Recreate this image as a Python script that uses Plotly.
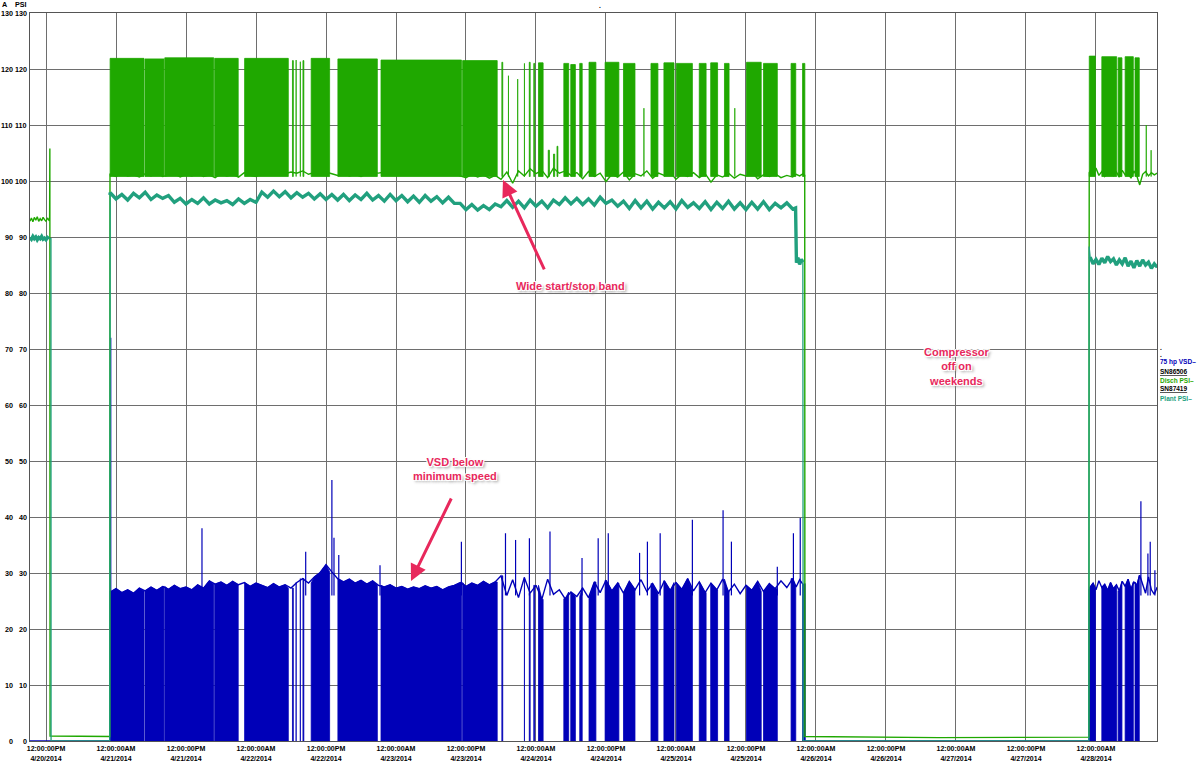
import numpy as np
import pandas as pd
import plotly.graph_objects as go

# ------------------------------------------------------------------ data
# time is expressed in hours after 2014-04-20 00:00
BASE = pd.Timestamp("2014-04-20 00:00")

# --- before the compressor is shut down on 4/20 (15-min samples from 9.25 h)
pre_t0, pre_step = 9.25, 0.25
pre_disch = [92.8, 93.4, 92.7, 93.5, 93.0, 93.6, 92.8, 93.3, 92.9, 93.5, 93.1, 92.8, 93.4, 93.0]
pre_plant = [89.9, 89.6, 90.1, 89.7, 90.0, 89.5, 89.9, 89.7, 90.1, 89.6, 89.8, 89.5, 89.9, 89.7]

# --- week run, hourly samples from 23 h (4/20 11 PM) to 140 h
run1_t0 = 23
run1_plant = [
    97.9, 96.8, 97.6, 96.6, 97.8, 97.0, 98.0, 96.7, 97.5, 96.9,
    97.4, 96.2, 96.9, 95.9, 96.7, 96.0, 97.0, 95.9, 96.6, 96.1,
    96.5, 95.8, 96.8, 96.0, 96.7, 96.2, 98.0, 97.1, 98.2, 97.2,
    98.1, 97.0, 97.9, 97.1, 97.8, 96.8, 97.7, 96.7, 97.6, 96.6,
    97.6, 96.5, 97.5, 96.7, 97.8, 96.6, 97.4, 96.4, 97.6, 96.5,
    97.4, 96.3, 97.3, 96.2, 97.4, 96.4, 97.2, 96.1, 97.1, 96.0,
    96.0, 94.9, 95.8, 94.8, 95.6, 94.9, 95.9, 95.4, 96.5, 95.3,
    96.4, 95.2, 96.6, 95.5, 96.4, 95.2, 96.6, 95.8, 97.0, 95.9,
    96.9, 95.8, 96.8, 95.7, 97.1, 96.0, 96.6, 95.5, 96.4, 95.1,
    96.5, 95.2, 96.4, 95.0, 96.2, 95.2, 96.3, 95.0, 96.5, 95.3,
    96.1, 95.1, 96.3, 94.9, 96.2, 95.1, 96.4, 95.0, 96.1, 94.9,
    96.2, 95.0, 96.3, 94.9, 96.0, 95.2, 96.1, 95.0,
]
run1_vsd = [
    26.6, 27.2, 26.5, 27.0, 26.4, 27.3, 26.8, 27.5, 26.9, 27.6,
    27.1, 27.8, 27.2, 27.5, 27.0, 27.9, 27.3, 28.6, 28.0, 28.4,
    27.8, 28.5, 27.9, 28.3, 27.6, 28.2, 27.8, 27.4, 28.1, 27.5,
    27.9, 27.3, 28.3, 29.0, 28.2, 29.3, 30.1, 31.5, 30.2, 29.0,
    28.4, 28.9, 28.2, 28.7, 28.0, 28.6, 27.8, 27.5, 27.9, 27.3,
    27.6, 27.1, 27.5, 27.2, 27.7, 27.3, 27.6, 27.0, 27.5, 27.8,
    28.3, 27.6, 28.2, 27.8, 28.5, 27.9, 28.4, 29.5, 26.0, 28.8,
    25.6, 29.2, 26.4, 27.8, 25.3, 28.9, 26.2, 27.0, 25.4, 26.6,
    25.8, 27.3, 25.6, 28.4, 26.5, 28.7, 26.8, 28.2, 26.4, 28.5,
    27.0, 28.8, 26.7, 28.1, 26.3, 28.6, 26.9, 28.3, 27.1, 29.0,
    26.8, 28.4, 26.5, 28.2, 27.0, 28.9, 26.6, 28.0, 26.3, 27.8,
    26.9, 28.5, 26.7, 28.1, 27.2, 28.6, 27.4, 29.0,
]
run1_disch = [
    101.2, 100.8, 101.4, 100.9, 101.1, 100.7, 101.3, 100.9, 101.5, 100.8,
    101.0, 101.3, 100.7, 101.2, 100.9, 101.4, 100.8, 101.1, 100.6, 101.3,
    100.9, 101.2, 100.7, 101.5, 101.0, 100.8, 101.3, 101.6, 101.4, 101.7,
    101.3, 101.6, 101.4, 101.8, 101.2, 101.5, 101.1, 101.6, 101.3, 101.0,
    101.4, 100.9, 101.2, 100.8, 101.3, 101.5, 101.4, 101.6, 101.3, 101.5,
    101.4, 101.6, 101.5, 101.3, 101.6, 101.4, 101.5, 101.2, 101.6, 101.3,
    101.0, 100.6, 101.2, 100.7, 101.1, 100.5, 101.0, 100.3, 101.6, 99.6,
    101.8, 100.9, 102.2, 101.3, 101.9, 100.6, 102.3, 101.4, 101.8, 101.0,
    101.5, 100.4, 101.7, 100.8, 101.4, 99.9, 101.2, 100.7, 101.6, 100.2,
    101.3, 100.9, 101.8, 100.5, 101.4, 101.0, 101.6, 100.3, 101.2, 100.8,
    101.5, 100.6, 101.3, 99.8, 101.1, 100.7, 101.4, 100.5, 101.2, 100.9,
    101.6, 100.4, 101.1, 100.8, 101.3, 100.6, 101.0, 100.7,
]

# --- Monday 4/28 run, 30-min samples from 191 h
run2_t0, run2_step = 191.0, 0.5
run2_plant = [86.4, 85.2, 86.0, 85.1, 86.2, 85.4, 86.5, 85.6, 86.1, 85.0, 85.9, 85.2,
              86.3, 84.8, 85.7, 84.5, 85.8, 84.8, 85.9, 85.0, 85.5, 84.4, 85.2, 84.6]
run2_vsd = [27.5, 28.2, 27.0, 28.6, 27.4, 28.0, 26.9, 28.3, 27.2, 27.9, 26.8, 28.5,
            27.6, 28.9, 27.1, 28.4, 27.8, 29.6, 28.1, 26.4, 29.3, 27.0, 26.2, 27.5]
run2_disch = [101.8, 101.2, 102.3, 101.0, 101.7, 100.8, 101.5, 102.1, 101.0, 101.6, 100.7, 101.9,
              101.1, 101.4, 100.5, 101.8, 100.9, 99.3, 101.2, 101.7, 100.9, 101.5, 101.1, 101.4]

# --- plant pressure while falling off after the Friday shutdown (hour, psi)
tail_plant_h = [140.5, 140.65, 140.9, 141.2, 141.5, 141.75]
tail_plant_v = [95.2, 85.4, 86.3, 85.1, 86.0, 85.5]

# --- start / stop transitions (hour, value)
plant_stop1_h = [12.85, 12.87, 22.93, 22.96]
plant_stop1_v = [89.7, 0.0, 0.0, 97.5]
plant_stop2_h = [141.8, 190.78, 190.82]
plant_stop2_v = [0.0, 0.0, 88.3]

disch_stop1_h = [12.62, 12.66, 12.70, 22.93, 22.97]
disch_stop1_v = [93.1, 105.8, 0.9, 0.8, 101.2]
disch_stop2_h = [140.6, 141.2, 141.8, 142.07, 142.1, 165.0, 190.78, 190.84]
disch_stop2_v = [101.2, 100.9, 101.3, 101.0, 0.8, 0.6, 0.7, 101.5]

vsd_stop1_h = [9.25, 22.97, 22.99]
vsd_stop1_v = [0.0, 0.0, 26.8]
vsd_stop2_h = [140.6, 141.2, 141.8, 142.08, 142.1, 190.8, 190.85]
vsd_stop2_v = [27.5, 28.8, 27.9, 28.0, 0.0, 0.0, 27.0]

# --- load/unload cycling periods (VSD to 0 A, discharge up to cut-out)
cyc_start = [22.99, 28.97, 32.36, 40.92, 46.05, 54.25, 54.88, 55.60, 56.05, 57.46,
             62.04, 69.43, 83.42, 90.15, 94.02, 94.85, 95.62, 96.43, 100.77, 101.96,
             103.50, 105.09, 107.85, 111.00, 115.71, 117.93, 120.05, 123.99, 125.95, 128.31,
             132.09, 135.00, 139.73, 141.70,
             190.85, 193.00, 195.80, 197.00, 198.69]
cyc_end = [28.80, 32.22, 40.76, 44.95, 53.54, 54.40, 55.00, 55.72, 56.20, 60.62,
           68.80, 83.22, 89.35, 90.30, 94.14, 95.00, 95.78, 97.22, 101.60, 102.75,
           103.92, 106.27, 110.21, 112.97, 116.90, 119.66, 122.81, 125.16, 127.13, 129.10,
           134.61, 137.37, 140.53, 142.09,
           191.90, 195.55, 196.45, 198.40, 199.42]
cyc_top = [121.9, 121.8, 122.0, 121.9, 121.9, 121.5, 121.6, 121.3, 121.5, 121.9,
           121.8, 121.6, 121.5, 121.2, 121.0, 121.2, 121.0, 121.1, 121.0, 120.8,
           121.0, 121.2, 121.2, 121.0, 121.0, 121.1, 121.0, 121.0, 121.1, 121.0,
           121.2, 121.0, 121.0, 121.0,
           122.3, 122.2, 122.0, 122.2, 122.0]

# --- short discharge pressure excursions without unloading
part_start = [91.28, 92.86, 98.10, 99.00, 99.60, 114.50, 130.08, 200.62, 201.45]
part_end = [91.36, 92.94, 98.30, 99.20, 99.75, 114.60, 130.18, 200.72, 201.55]
part_top = [118.8, 118.2, 105.5, 104.8, 106.2, 113.0, 113.0, 110.0, 105.5]

# --- VSD current spikes
spike_h = [23.10, 38.74, 56.52, 61.01, 61.37, 62.19, 69.26, 83.21, 90.77, 92.50,
           94.87, 98.40, 103.89, 106.66, 108.39, 113.76, 115.10, 117.29, 122.81, 128.07,
           129.50, 137.37, 140.13, 141.30, 199.70, 200.90, 201.30, 202.10]
spike_v = [72.0, 38.0, 33.8, 46.6, 36.3, 33.2, 31.4, 35.6, 37.1, 35.9,
           36.2, 37.4, 32.7, 36.2, 37.1, 33.6, 35.6, 37.1, 39.5, 41.2,
           35.6, 31.1, 37.1, 39.8, 42.8, 33.5, 35.6, 30.5]

# --- axis ticks
x_range_h = [9.257, 202.46]
tick_hours = [12, 24, 36, 48, 60, 72, 84, 96, 108, 120, 132, 144, 156, 168, 180, 192]
tick_text = ["12:00:00PM<br>4/20/2014", "12:00:00AM<br>4/21/2014", "12:00:00PM<br>4/21/2014",
             "12:00:00AM<br>4/22/2014", "12:00:00PM<br>4/22/2014", "12:00:00AM<br>4/23/2014",
             "12:00:00PM<br>4/23/2014", "12:00:00AM<br>4/24/2014", "12:00:00PM<br>4/24/2014",
             "12:00:00AM<br>4/25/2014", "12:00:00PM<br>4/25/2014", "12:00:00AM<br>4/26/2014",
             "12:00:00PM<br>4/26/2014", "12:00:00AM<br>4/27/2014", "12:00:00PM<br>4/27/2014",
             "12:00:00AM<br>4/28/2014"]
y_ticks = [0, 10, 20, 30, 40, 50, 60, 70, 80, 90, 100, 110, 120, 130]
y_tick_text = ["0", "10", "20", "30", "40", "50", "60", "70", "80", "90", "100", "110", "120", "130"]

# ------------------------------------------------------------------ helpers
def T(h):
    return (BASE + pd.Timedelta(hours=float(h))).strftime("%Y-%m-%d %H:%M:%S")


def grid(t0, step, n):
    return [t0 + i * step for i in range(n)]


pre_h = grid(pre_t0, pre_step, len(pre_plant))
run1_h = grid(run1_t0, 1, len(run1_plant))
run2_h = grid(run2_t0, run2_step, len(run2_plant))

plant_h = pre_h + plant_stop1_h + run1_h + tail_plant_h + plant_stop2_h + run2_h
plant_v = pre_plant + plant_stop1_v + run1_plant + tail_plant_v + plant_stop2_v + run2_plant

# thick noisy band only while the plant is pressurised
band_x = [T(h) for h in pre_h] + [None] + [T(h) for h in [22.96] + run1_h + tail_plant_h] + [None] \
    + [T(h) for h in run2_h]
band_y = pre_plant + [None] + [plant_stop1_v[-1]] + run1_plant + tail_plant_v + [None] + run2_plant

disch_h = pre_h + disch_stop1_h + grid(run1_t0, 1, len(run1_disch)) + disch_stop2_h \
    + grid(run2_t0, run2_step, len(run2_disch))
disch_v = pre_disch + disch_stop1_v + run1_disch + disch_stop2_v + run2_disch

vsd_h = vsd_stop1_h + grid(run1_t0, 1, len(run1_vsd)) + vsd_stop2_h + grid(run2_t0, run2_step, len(run2_vsd))
vsd_v = vsd_stop1_v + run1_vsd + vsd_stop2_v + run2_vsd

vsd_h_arr = np.array(vsd_h)
vsd_v_arr = np.array(vsd_v)


def vsd_near(h):
    return float(vsd_v_arr[np.argmin(np.abs(vsd_h_arr - h))])


# cycling fill polygons
blue_x, blue_y, green_x, green_y = [], [], [], []
GREEN_LOW = 100.8
for s, e, top in zip(cyc_start, cyc_end, cyc_top):
    green_x += [T(s), T(s), T(e), T(e), T(s), None]
    green_y += [GREEN_LOW, top, top, GREEN_LOW, GREEN_LOW, None]
    xs = [s, s] + [h for h in vsd_h if s < h < e] + [e, e]
    ys = [0, vsd_near(s)] + [v for h, v in zip(vsd_h, vsd_v) if s < h < e] + [vsd_near(e), 0]
    blue_x += [T(h) for h in xs] + [T(s), None]
    blue_y += ys + [0, None]
for s, e, top in zip(part_start, part_end, part_top):
    green_x += [T(s), T(s), T(e), T(e), T(s), None]
    green_y += [GREEN_LOW, top, top, GREEN_LOW, GREEN_LOW, None]

spx, spy = [], []
for h, v in zip(spike_h, spike_v):
    spx += [T(h), T(h), None]
    spy += [26.0, v, None]

# ------------------------------------------------------------------ figure
BLUE = "#0000B8"
GREEN = "#1FA800"
TEAL = "#21A07E"
RED = "#E8285C"
GRID = "#6E6E6E"

fig = go.Figure()
fig.add_trace(go.Scatter(x=blue_x, y=blue_y, mode="lines", fill="toself", fillcolor=BLUE,
                         line=dict(color=BLUE, width=0.8), hoverinfo="skip", showlegend=False))
fig.add_trace(go.Scatter(x=[T(h) for h in vsd_h], y=vsd_v, mode="lines", name="75 hp VSD",
                         line=dict(color=BLUE, width=1.4), showlegend=False))
fig.add_trace(go.Scatter(x=spx, y=spy, mode="lines", line=dict(color=BLUE, width=1.2),
                         hoverinfo="skip", showlegend=False))
fig.add_trace(go.Scatter(x=green_x, y=green_y, mode="lines", fill="toself", fillcolor=GREEN,
                         line=dict(color=GREEN, width=0.8), hoverinfo="skip", showlegend=False))
fig.add_trace(go.Scatter(x=[T(h) for h in disch_h], y=disch_v, mode="lines", name="Disch PSI",
                         line=dict(color=GREEN, width=1.4), showlegend=False))
fig.add_trace(go.Scatter(x=[T(h) for h in plant_h], y=plant_v, mode="lines", name="Plant PSI",
                         line=dict(color=TEAL, width=1.3), showlegend=False))
fig.add_trace(go.Scatter(x=band_x, y=band_y, mode="lines", line=dict(color=TEAL, width=3.4),
                         hoverinfo="skip", showlegend=False, connectgaps=False))

tick_font = dict(family="Liberation Sans, Arial", size=7.2, color="#000", weight="bold")

fig.update_layout(
    width=1200, height=761,
    margin=dict(l=30, r=43, t=13, b=20, autoexpand=False),
    paper_bgcolor="white", plot_bgcolor="white",
    xaxis=dict(type="date", range=[T(x_range_h[0]), T(x_range_h[1])], automargin=False,
               tickvals=[T(h) for h in tick_hours], ticktext=tick_text,
               tickfont=dict(family="Liberation Sans, Arial", size=7, color="#000", weight="bold"),
               showgrid=True, gridcolor=GRID, gridwidth=1, ticks="", ticklabelstandoff=1,
               showline=True, linecolor="#555", mirror=True, zeroline=False),
    yaxis=dict(range=[0, 130], tickvals=y_ticks, showgrid=True, gridcolor=GRID, gridwidth=1,
               showticklabels=False, ticks="", automargin=False,
               showline=True, linecolor="#555", mirror=True, zeroline=False),
)


def px_x(px):
    return (px - 30) / 1127.0


def px_y(py):
    return (741 - py) / 728.0


# two columns of y labels: A (current) and PSI
for v, txt in zip(y_ticks, y_tick_text):
    for px in (13.5, 28):
        fig.add_annotation(xref="paper", yref="y", x=px_x(px), y=v, text=txt, showarrow=False,
                           xanchor="right", yanchor="middle", font=tick_font,
                           borderpad=0, xshift=0)

ann_font = dict(family="Liberation Sans, Arial", size=11, color=RED, weight="bold",
                shadow="-1px -1px 0 #fff, 1px -1px 0 #fff, -1px 1px 0 #fff, 1px 1px 0 #fff, 2px 2px 3px #888")
notes = [
    (101.83, 81.25, "Wide start/stop band"),
    (82.11, 48.57, "VSD below<br>minimum speed"),
    (168.17, 66.79, "Compressor<br>off on<br>weekends"),
]
for h, y, txt in notes:
    fig.add_annotation(x=T(h), y=y, text=txt, showarrow=False, font=ann_font, align="center")

arrows = [(90.34, 100.18, 42, 91), (74.57, 28.57, 41, -84)]
for h, y, ax, ay in arrows:
    fig.add_annotation(x=T(h), y=y, text="", showarrow=True, ax=ax, ay=ay, arrowcolor=RED,
                       arrowwidth=3, arrowhead=2, arrowsize=1.1)

small = dict(family="Liberation Sans, Arial", size=6.5, weight="bold")

fig.add_annotation(xref="paper", yref="paper", x=px_x(0.5), y=px_y(4), text="A", showarrow=False,
                   xanchor="left", yanchor="middle", borderpad=0, font=dict(small, size=7.2, color="#000"))
fig.add_annotation(xref="paper", yref="paper", x=px_x(13), y=px_y(4), text="PSI", showarrow=False,
                   xanchor="left", yanchor="middle", font=dict(small, size=7.2, color="#000"))
fig.add_annotation(xref="paper", yref="paper", x=px_x(600), y=px_y(5), text=".", showarrow=False,
                   xanchor="center", yanchor="middle", font=dict(small, color="#000"))

legend_items = [
    (347, ".", "#000"), (354, ".", "#000"),
    (362, "75 hp VSD–", BLUE), (371, "<u>SN86506</u>", "#000"),
    (380, "Disch PSI–", GREEN), (389, "<u>SN87419</u>", "#000"),
    (398, "Plant PSI–", TEAL),
]
for py, txt, col in legend_items:
    fig.add_annotation(xref="paper", yref="paper", x=px_x(1158), y=px_y(py), text=txt,
                       showarrow=False, xanchor="left", yanchor="middle",
                       font=dict(small, color=col))

fig.write_html("out.html")
